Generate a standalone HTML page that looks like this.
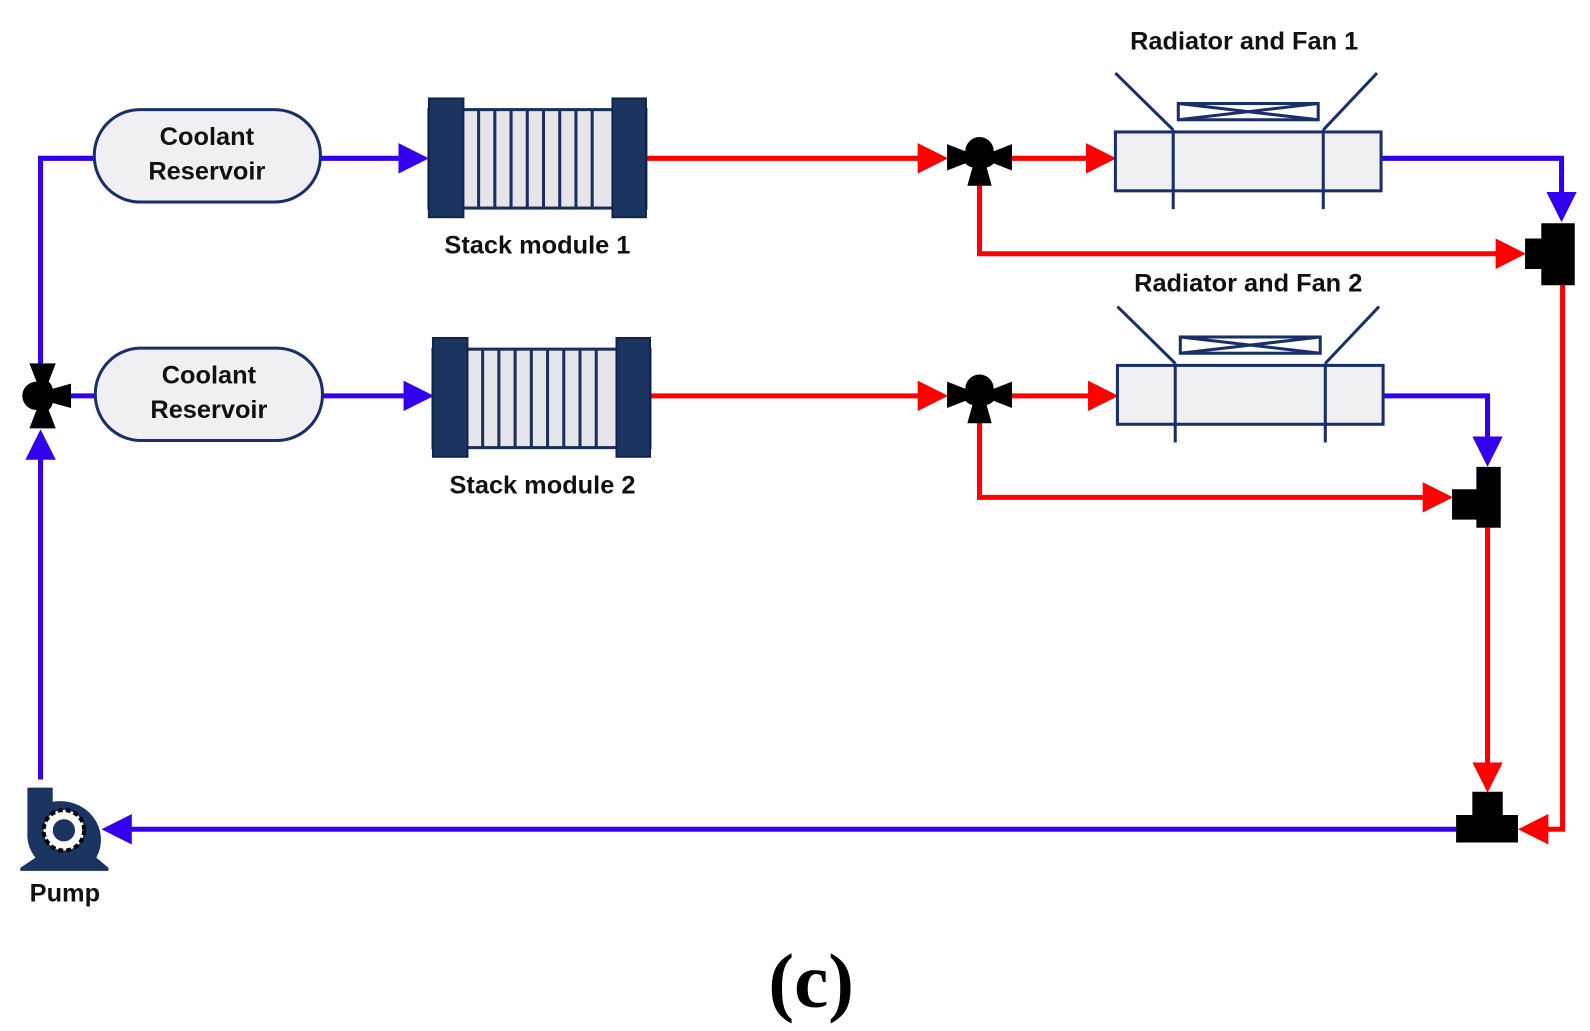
<!DOCTYPE html>
<html><head><meta charset="utf-8"><style>
html,body{margin:0;padding:0;background:#fff;}
svg{display:block;}
text{font-family:"Liberation Sans",sans-serif;font-weight:bold;fill:#111;}
</style></head><body>
<svg width="1590" height="1031" viewBox="0 0 1590 1031" xmlns="http://www.w3.org/2000/svg">
<defs>
<marker id="ab" markerWidth="6" markerHeight="6" refX="5" refY="3" orient="auto" markerUnits="strokeWidth"><path d="M0,0 L6,3 L0,6 Z" fill="#3300ee"/></marker>
<marker id="ar" markerWidth="6" markerHeight="6" refX="5" refY="3" orient="auto" markerUnits="strokeWidth"><path d="M0,0 L6,3 L0,6 Z" fill="#ff0000"/></marker>
<g id="stack">
 <rect x="0" y="11" width="214" height="97" fill="#e6e6ea" stroke="#1a2f5a" stroke-width="3"/>
 <g stroke="#1a2f5a" stroke-width="3">
  <line x1="49" y1="11" x2="49" y2="108"/><line x1="65" y1="11" x2="65" y2="108"/><line x1="81" y1="11" x2="81" y2="108"/>
  <line x1="97" y1="11" x2="97" y2="108"/><line x1="113" y1="11" x2="113" y2="108"/><line x1="129" y1="11" x2="129" y2="108"/>
  <line x1="145" y1="11" x2="145" y2="108"/><line x1="161" y1="11" x2="161" y2="108"/>
 </g>
 <rect x="0" y="0" width="34" height="117" fill="#1c3461" stroke="#122448" stroke-width="2"/>
 <rect x="181" y="0" width="33" height="117" fill="#1c3461" stroke="#122448" stroke-width="2"/>
</g>
<g id="rad">
 <rect x="0" y="0" width="262" height="58" fill="#f0f0f2" stroke="#1a2f6a" stroke-width="3"/>
 <g stroke="#1a2f6a" stroke-width="3" fill="none">
  <line x1="57" y1="-2" x2="57" y2="76"/><line x1="205" y1="-2" x2="205" y2="76"/>
  <line x1="0" y1="-58" x2="57" y2="-2"/><line x1="258" y1="-58" x2="205" y2="-2"/>
  <rect x="62" y="-28" width="138" height="16"/>
  <line x1="62" y1="-28" x2="200" y2="-12"/><line x1="62" y1="-12" x2="200" y2="-28"/>
 </g>
</g>
<g id="valve">
 <path d="M-32,-13 L-14,-6 A13,13 0 0 1 14,-6 L32,-13 L32,13 L14,6 A13,13 0 0 1 7,10 L12,28 L-12,28 L-7,10 A13,13 0 0 1 -14,6 L-32,13 Z" fill="#000"/>
</g>
</defs>
<g transform="scale(1.014,1.015)">
<!-- blue lines -->
<g stroke="#3300ee" stroke-width="5" fill="none">
 <path d="M40,362 L40,156 L93,156"/>
 <path d="M316,156 L418,156" marker-end="url(#ab)"/>
 <path d="M318,390 L423,390" marker-end="url(#ab)"/>
 <path d="M70,390 L93,390"/>
 <path d="M1362,156 L1540,156 L1540,214" marker-end="url(#ab)"/>
 <path d="M1364,390 L1467,390 L1467,455" marker-end="url(#ab)"/>
 <path d="M1436,817 L105,817" marker-end="url(#ab)"/>
 <path d="M40,768 L40,428" marker-end="url(#ab)"/>
</g>
<!-- red lines -->
<g stroke="#ff0000" stroke-width="5" fill="none">
 <path d="M637,156 L930,156" marker-end="url(#ar)"/>
 <path d="M998,156 L1096,156" marker-end="url(#ar)"/>
 <path d="M966,180 L966,250 L1500,250" marker-end="url(#ar)"/>
 <path d="M641,390 L930,390" marker-end="url(#ar)"/>
 <path d="M998,390 L1098,390" marker-end="url(#ar)"/>
 <path d="M966,414 L966,490 L1428,490" marker-end="url(#ar)"/>
 <path d="M1541,280 L1541,817 L1502,817" marker-end="url(#ar)"/>
 <path d="M1467,520 L1467,776" marker-end="url(#ar)"/>
</g>

<rect x="93" y="108" width="223" height="91" rx="45" fill="#f0f0f2" stroke="#1a2f6a" stroke-width="3"/>
<text x="204" y="143" font-size="25" text-anchor="middle">Coolant</text>
<text x="204" y="177" font-size="25" text-anchor="middle">Reservoir</text>
<rect x="94" y="343" width="224" height="91" rx="45" fill="#f0f0f2" stroke="#1a2f6a" stroke-width="3"/>
<text x="206" y="378" font-size="25" text-anchor="middle">Coolant</text>
<text x="206" y="412" font-size="25" text-anchor="middle">Reservoir</text>

<use href="#stack" x="423" y="97"/>
<text x="530" y="250" font-size="25" text-anchor="middle">Stack module 1</text>
<use href="#stack" x="427" y="333"/>
<text x="535" y="486" font-size="25" text-anchor="middle">Stack module 2</text>

<use href="#rad" x="1100" y="130"/>
<text x="1227" y="49" font-size="25" text-anchor="middle">Radiator and Fan 1</text>
<use href="#rad" x="1102" y="360"/>
<text x="1231" y="287" font-size="25" text-anchor="middle">Radiator and Fan 2</text>

<use href="#valve" x="966" y="155"/>
<use href="#valve" x="966" y="389"/>
<g transform="translate(42,390) rotate(-90)"><use href="#valve"/></g>

<path d="M1520,220 L1553,220 L1553,281 L1520,281 L1520,265 L1504,265 L1504,235 L1520,235 Z" fill="#000"/>
<path d="M1456,460 L1480,460 L1480,520 L1456,520 L1456,512 L1432,512 L1432,482 L1456,482 Z" fill="#000"/>
<path d="M1452,780 L1482,780 L1482,803 L1497,803 L1497,830 L1436,830 L1436,803 L1452,803 Z" fill="#000"/>

<!-- pump -->
<path d="M27,776 L52,776 L52,790 A40,38 0 0 1 95,845 L107,855 L107,858 L20,858 L20,855 L35,845 A40,38 0 0 1 27,820 Z" fill="#1c3461"/>
<circle cx="63" cy="818" r="20" fill="#fff"/>
<circle cx="63" cy="818" r="20" fill="none" stroke="#000" stroke-width="4" stroke-dasharray="5 3"/>
<circle cx="63" cy="818" r="11" fill="#1c3461"/>
<text x="64" y="888" font-size="25" text-anchor="middle">Pump</text>

<text x="800" y="992" font-size="76" text-anchor="middle" style="font-family:'Liberation Serif',serif;font-weight:bold;fill:#000">(c)</text>
</g>
</svg>
</body></html>
